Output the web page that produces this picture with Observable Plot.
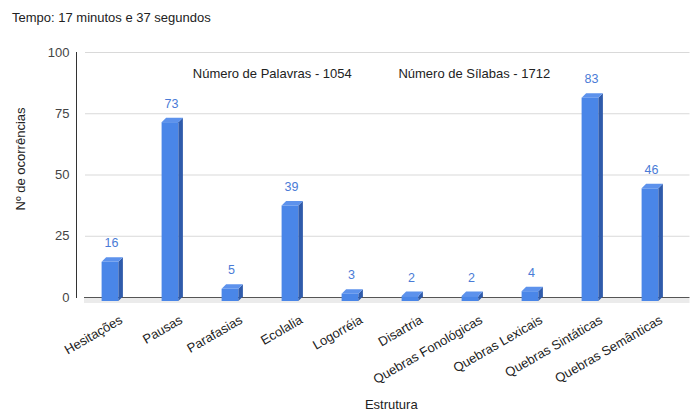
<!DOCTYPE html>
<html><head><meta charset="utf-8">
<script src="https://cdn.jsdelivr.net/npm/d3@7"></script>
<script src="https://cdn.jsdelivr.net/npm/@observablehq/plot@0.6"></script>
<style>
body{margin:0;background:#fff;font-family:"Liberation Sans",Arial,sans-serif;}
#title{height:36px;box-sizing:border-box;padding:10px 0 0 12px;font-size:13px;color:#222;line-height:16px;}
#chart svg{display:block;}
</style></head><body>
<div id="title">Tempo: 17 minutos e 37 segundos</div>
<div id="chart"></div>
<script>
const categories = ["Hesitações","Pausas","Parafasias","Ecolalia","Logorréia","Disartria","Quebras Fonológicas","Quebras Lexicais","Quebras Sintáticas","Quebras Semânticas"];
const values = [16,73,5,39,3,2,2,4,83,46];
const yTicks = [0,25,50,75,100];
const notes = ["Número de Palavras - 1054","Número de Sílabas - 1712"];
const xTitle = "Estrutura";
const yTitle = "Nº de ocorrências";

const data = categories.map((c,i)=>({cat:c, val:values[i]}));
const FRONT = "#4a86e8", SIDE = "#2f5bab", TOP = "#5d92ec", LABEL = "#4a7bd6";
const D = 4.5;

function bars3d(index, scales, vals, dims, ctx, next){
  const g = next(index, scales, vals, dims, ctx);
  const ns = "http://www.w3.org/2000/svg";
  for (const r of Array.from(g.querySelectorAll("rect"))) {
    const x=+r.getAttribute("x"), y=+r.getAttribute("y"), w=+r.getAttribute("width"), h=+r.getAttribute("height");
    const side=document.createElementNS(ns,"polygon");
    side.setAttribute("points",`${x+w},${y} ${x+w+D},${y-D} ${x+w+D},${y+h-D} ${x+w},${y+h}`);
    side.setAttribute("fill",SIDE);
    const top=document.createElementNS(ns,"polygon");
    top.setAttribute("points",`${x},${y} ${x+D},${y-D} ${x+w+D},${y-D} ${x+w},${y}`);
    top.setAttribute("fill",TOP);
    r.parentNode.appendChild(side);
    r.parentNode.appendChild(top);
  }
  return g;
}

const chart = Plot.plot({
  width: 695, height: 376,
  marginTop: 16, marginBottom: 115, marginLeft: 76, marginRight: 11.5,
  style: {fontFamily: '"Liberation Sans", Arial, sans-serif', fontSize: "13px", color: "#222", background: "#fff"},
  x: {domain: categories, padding: 0, axis: null},
  y: {domain: [0,100], axis: null},
  marks: [
    Plot.ruleY(yTicks.filter(d=>d>0), {stroke:"#d9d9d9", insetLeft: 9, insetRight: -6}),
    Plot.ruleY([0], {stroke:"#ebebeb", strokeWidth:5, dy:3, insetLeft: 8, insetRight: -6}),
    Plot.ruleY([0], {stroke:"#555", insetLeft: 8, insetRight: -6}),
    Plot.frame({anchor:"left", stroke:"#333"}),
    Plot.axisY({ticks: yTicks, tickSize: 0, tickPadding: 7, fontSize: 13, color:"#444", label: null}),
    Plot.barY(data, {x:"cat", y:"val", fill: FRONT, insetLeft: 21.6, insetRight: 21.6, dy: 4, render: bars3d}),
    Plot.text(data, {x:"cat", y:"val", text: d=>String(d.val), fill: LABEL, fontSize: 12.5, dy: -15, dx: 1}),
    Plot.text(data, {x:"cat", text:"cat", frameAnchor:"bottom", rotate:-30, textAnchor:"end", dx: 13, dy: 25, fontSize: 13, fill:"#222"}),
    Plot.text([xTitle], {frameAnchor:"bottom", dx: 11, dy: 111, fontSize: 13, fill:"#222"}),
    Plot.text([yTitle], {frameAnchor:"left", rotate:-90, dx: -56, dy: 35.5, fontSize: 13, fill:"#222"}),
    Plot.text([notes[0]], {frameAnchor:"top", dx: -108, dy: 16, fontSize: 13, fill:"#222"}),
    Plot.text([notes[1]], {frameAnchor:"top", dx: 94, dy: 16, fontSize: 13, fill:"#222"})
  ]
});
document.getElementById("chart").appendChild(chart);
</script>
</body></html>
